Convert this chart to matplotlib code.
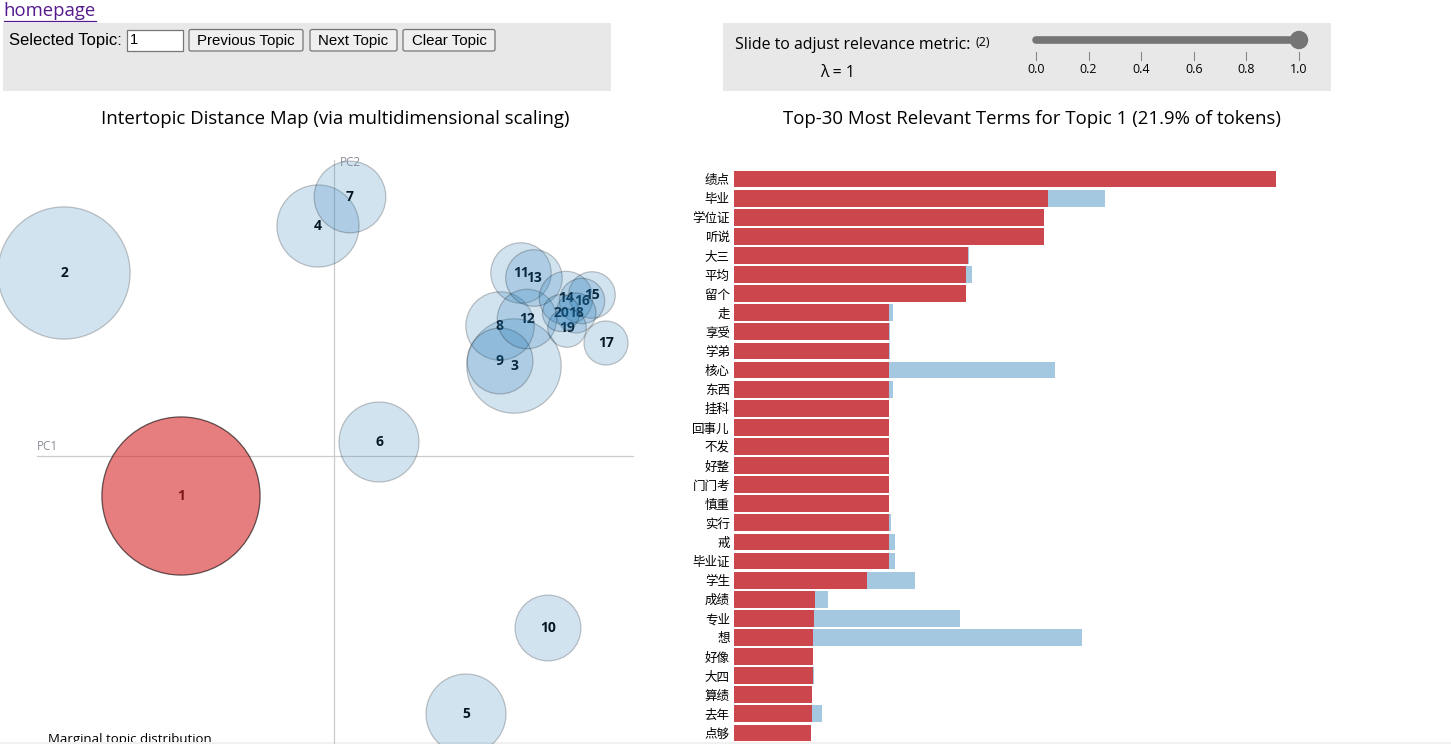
import matplotlib
matplotlib.use('Agg')
import matplotlib.pyplot as plt
from matplotlib.patches import Circle, Rectangle, FancyBboxPatch
import numpy as np

plt.rcParams['font.family'] = ['Open Sans', 'Noto Sans CJK SC', 'DejaVu Sans']

# topics: position on the two principal components and share of tokens (%)
topics = list(range(1, 21))
pc1 = [-0.153, -0.270, 0.180, -0.016, 0.132, 0.045, 0.016, 0.166, 0.166, 0.214,
       0.187, 0.193, 0.200, 0.232, 0.258, 0.248, 0.272, 0.242, 0.233, 0.227]
pc2 = [-0.040, 0.183, 0.090, 0.230, -0.258, 0.014, 0.259, 0.130, 0.095, -0.172,
       0.183, 0.137, 0.178, 0.158, 0.161, 0.155, 0.113, 0.143, 0.128, 0.143]
topic_share = [21.9, 15.3, 7.8, 5.9, 5.6, 5.6, 4.5, 4.1, 3.8, 3.8,
               3.2, 3.1, 2.8, 2.5, 1.9, 1.8, 1.7, 1.4, 1.3, 1.2]

# top-30 terms for topic 1
terms = ['绩点', '毕业', '学位证', '听说', '大三', '平均', '留个', '走', '享受', '学弟',
         '核心', '东西', '挂科', '回事儿', '不发', '好整', '门门考', '慎重', '实行', '戒',
         '毕业证', '学生', '成绩', '专业', '想', '好像', '大四', '算绩', '去年', '点够']
topic_freq = [70.0, 40.5, 40.0, 40.0, 30.2, 30.0, 30.0, 20.0, 20.0, 20.0,
              20.0, 20.0, 20.0, 20.0, 20.0, 20.0, 20.0, 20.0, 20.0, 20.0,
              20.0, 17.2, 10.5, 10.3, 10.2, 10.2, 10.2, 10.1, 10.1, 10.0]
total_freq = [70.0, 47.9, 40.0, 40.0, 30.3, 30.7, 30.0, 20.5, 20.1, 20.1,
              41.5, 20.5, 20.0, 20.0, 20.0, 20.0, 20.0, 20.0, 20.3, 20.8,
              20.8, 23.4, 12.1, 29.2, 44.9, 10.2, 10.3, 10.1, 11.4, 10.0]

lambda_ticks = [0.0, 0.2, 0.4, 0.6, 0.8, 1.0]
lam = 1
selected = 1

W, H = 1451, 744
fig = plt.figure(figsize=(W / 100, H / 100), dpi=100)

# page layer in pixel coordinates
page = fig.add_axes([0, 0, 1, 1])
page.set_xlim(0, W)
page.set_ylim(H, 0)
page.axis('off')

page.text(3, 11, 'homepage', fontsize=13.3, color='#551a8b', va='center', ha='left')
page.plot([4, 96], [20.5, 20.5], color='#551a8b', lw=0.9)

page.add_patch(Rectangle((3, 23), 608, 68, color='#e8e8e8', lw=0))
page.add_patch(Rectangle((723, 23), 608, 68, color='#e8e8e8', lw=0))

page.text(9, 40.5, 'Selected Topic:', fontsize=12, va='center', ha='left', family='Liberation Sans')
page.add_patch(Rectangle((127, 29.5), 56, 21.5, facecolor='white', edgecolor='#767676', lw=0.9))
page.text(130, 40.5, str(selected), fontsize=10.5, va='center', ha='left', family='Liberation Sans')
for x0, w, lab in [(189, 114, 'Previous Topic'), (310, 87, 'Next Topic'), (403, 92, 'Clear Topic')]:
    page.add_patch(FancyBboxPatch((x0, 29.5), w, 21.5, boxstyle='round,pad=0,rounding_size=2',
                                  facecolor='#efefef', edgecolor='#767676', lw=0.9))
    page.text(x0 + w / 2, 40.5, lab, fontsize=10.8, va='center', ha='center', family='Liberation Sans')

page.text(735, 45, 'Slide to adjust relevance metric:', fontsize=11.4, va='center', ha='left')
page.text(975, 42, '(2)', fontsize=9, va='center', ha='left')
page.text(838, 73, 'λ = %d' % lam, fontsize=11.4, va='center', ha='center')

sx0, sx1 = 1036, 1299
page.plot([sx0, sx1], [40, 40], color='#757575', lw=5.5, solid_capstyle='round')
page.add_patch(Circle((sx0 + (sx1 - sx0) * lam, 40), 8.5, color='#757575'))
for v in lambda_ticks:
    xv = sx0 + (sx1 - sx0) * v
    page.plot([xv, xv], [52, 60], color='#888888', lw=0.8)
    page.text(xv, 69.5, '%.1f' % v, fontsize=9, va='center', ha='center')

page.text(335, 119, 'Intertopic Distance Map (via multidimensional scaling)',
          fontsize=13.4, va='center', ha='center')
page.text(1032, 119, 'Top-30 Most Relevant Terms for Topic %d (%.1f%% of tokens)' % (selected, topic_share[selected - 1]),
          fontsize=13.4, va='center', ha='center')

page.text(48, 740, 'Marginal topic distribution', fontsize=9.5, va='center', ha='left')
page.add_patch(Rectangle((0, 741.5), W, 3, color='#f0f0f0', lw=0, zorder=5))

# bubble map, 1 unit = 1000 px in both directions
ax = fig.add_axes([0, 0, 660 / W, (H - 130) / H])
ax.set_xlim(-0.334, 0.326)
ax.set_ylim(-0.288, 0.326)
ax.axis('off')
ax.patch.set_alpha(0)

ax.plot([-0.297, 0.299], [0, 0], color='#cccccc', lw=0.9, zorder=0)
ax.plot([0, 0], [-0.3, 0.296], color='#cccccc', lw=0.9, zorder=0)
ax.text(-0.297, 0.009, 'PC1', fontsize=8.5, color='#8a8f99', ha='left', va='center')
ax.text(0.006, 0.2935, 'PC2', fontsize=8.5, color='#8a8f99', ha='left', va='center')

rscale = 0.0169
for t, x, y, p in zip(topics, pc1, pc2, topic_share):
    r = rscale * np.sqrt(p)
    if t == selected:
        fc = (214 / 255, 39 / 255, 40 / 255, 0.6)
        ec = (0, 0, 0, 0.6)
    else:
        fc = (31 / 255, 119 / 255, 180 / 255, 0.2)
        ec = (0, 0, 0, 0.22)
    ax.add_patch(Circle((x, y), r, facecolor=fc, edgecolor=ec, lw=0.9, zorder=2))
    ax.text(x, y, str(t), fontsize=10, fontweight='bold', ha='center', va='center',
            color='black', zorder=1)

# term bars
bx = fig.add_axes([734 / W, 0, (W - 734) / W, (H - 160) / H])
step = (733 - 179) / 29
bx.set_xlim(0, max(topic_freq) * (W - 734) / 542)
bx.set_ylim(29 + (H - 733) / step, -(179 - 160) / step)
bx.patch.set_alpha(0)
ypos = np.arange(len(terms))
bx.barh(ypos, total_freq, height=0.88, color='#1f77b4', alpha=0.4, lw=0)
bx.barh(ypos, topic_freq, height=0.88, color='#d62728', alpha=0.8, lw=0)
bx.set_yticks(ypos)
bx.set_yticklabels(terms, fontsize=9, family=['Noto Sans CJK SC', 'DejaVu Sans'])
bx.tick_params(axis='y', length=0, pad=3)
bx.set_xticks([])
for s in bx.spines.values():
    s.set_visible(False)

plt.savefig('out.png', dpi=100)
